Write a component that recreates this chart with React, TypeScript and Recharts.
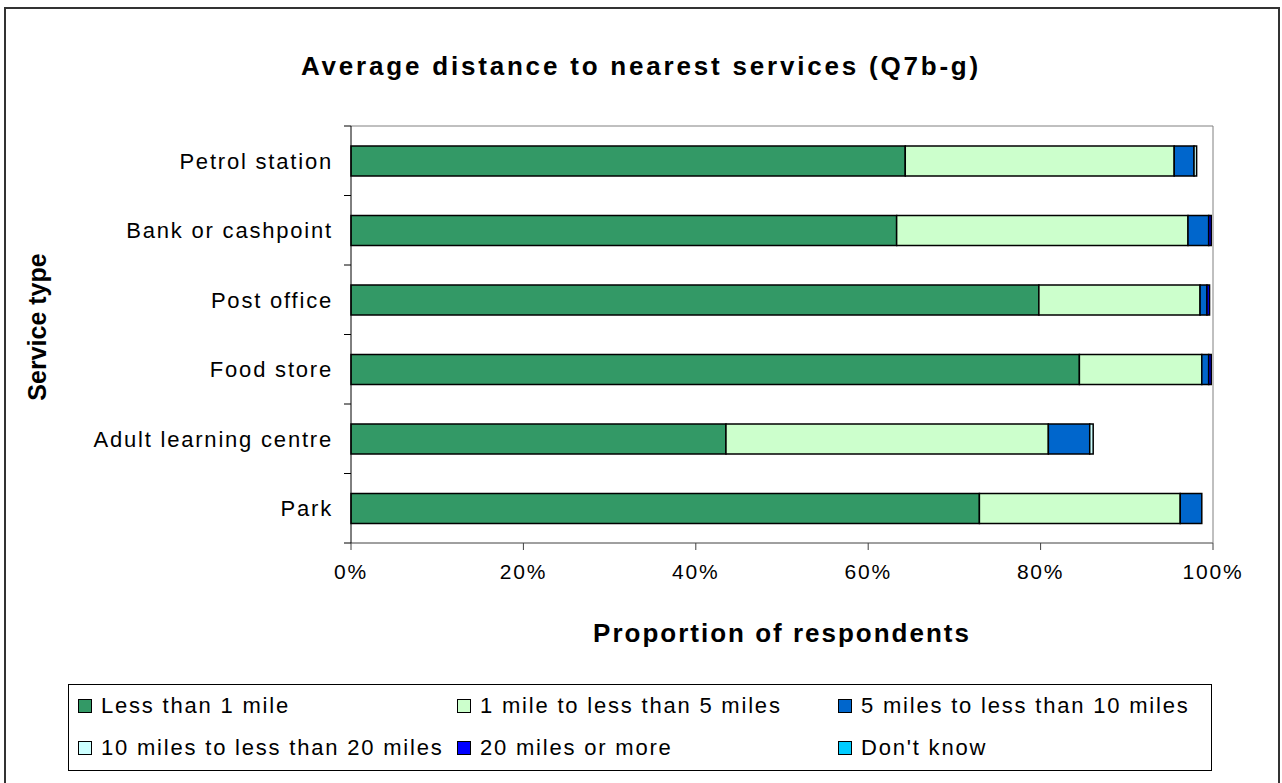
import { BarChart, Bar, XAxis, YAxis } from "recharts";

const services = [
  "Petrol station",
  "Bank or cashpoint",
  "Post office",
  "Food store",
  "Adult learning centre",
  "Park",
];

const lessThan1 = [64.3, 63.3, 79.8, 84.5, 43.5, 72.9];
const oneTo5 = [31.2, 33.8, 18.7, 14.2, 37.4, 23.3];
const fiveTo10 = [2.3, 2.4, 0.8, 0.8, 4.8, 2.5];
const tenTo20 = [0.3, 0, 0, 0, 0.4, 0];
const twentyPlus = [0, 0.3, 0.3, 0.3, 0, 0];
const dontKnow = [0, 0, 0, 0, 0, 0];

const percentTicks = [0, 20, 40, 60, 80, 100];

const seriesList = [
  { key: "lt1", name: "Less than 1 mile", color: "#339966", values: lessThan1 },
  { key: "b1to5", name: "1 mile to less than 5 miles", color: "#CCFFCC", values: oneTo5 },
  { key: "b5to10", name: "5 miles to less than 10 miles", color: "#0066CC", values: fiveTo10 },
  { key: "b10to20", name: "10 miles to less than 20 miles", color: "#CCFFFF", values: tenTo20 },
  { key: "gt20", name: "20 miles or more", color: "#0000FF", values: twentyPlus },
  { key: "dk", name: "Don't know", color: "#00CCFF", values: dontKnow },
];

const chartData = services.map((service, i) => {
  const row: Record<string, string | number> = { service };
  seriesList.forEach((s) => {
    row[s.key] = s.values[i];
  });
  return row;
});

const font = "'Liberation Sans', Arial, sans-serif";

const CHART_H = 783;
const MARGIN_TOP = 125;
const TOP_AXIS_H = 1;
const X_AXIS_H = 240;
const TICK_MARGIN = 18;
const bandSize = (CHART_H - MARGIN_TOP - TOP_AXIS_H - X_AXIS_H) / services.length;

// category label plus Excel-style tick marks on the band boundaries
function ServiceTick(props: any) {
  const { x, y, payload, index } = props;
  const axisX = x + TICK_MARGIN;
  return (
    <g>
      <line x1={axisX - 7} x2={axisX} y1={y - bandSize / 2} y2={y - bandSize / 2} stroke="#000" />
      {index === services.length - 1 && (
        <line x1={axisX - 7} x2={axisX} y1={y + bandSize / 2} y2={y + bandSize / 2} stroke="#000" />
      )}
      <text
        x={x}
        y={y}
        dy="0.355em"
        textAnchor="end"
        fill="#000"
        fontSize={22}
        fontFamily={font}
        letterSpacing={1.8}
      >
        {payload.value}
      </text>
    </g>
  );
}

export default function App() {
  return (
    <div
      style={{
        position: "absolute",
        left: 0,
        top: 0,
        width: 1282,
        height: 783,
        fontFamily: font,
        background: "#fff",
        overflow: "hidden",
      }}
    >
      <div
        style={{
          position: "absolute",
          left: 4,
          top: 7,
          width: 1272,
          height: 790,
          border: "2px solid #333",
        }}
      />
      <div
        style={{
          position: "absolute",
          left: 641,
          top: 66,
          transform: "translate(-50%, -50%)",
          fontSize: 26,
          fontWeight: "bold",
          letterSpacing: 2.8,
          whiteSpace: "nowrap",
        }}
      >
        Average distance to nearest services (Q7b-g)
      </div>
      <div
        style={{
          position: "absolute",
          left: 37,
          top: 327,
          transform: "translate(-50%, -50%) rotate(-90deg)",
          fontSize: 25,
          fontWeight: "bold",
          whiteSpace: "nowrap",
        }}
      >
        Service type
      </div>
      <div
        style={{
          position: "absolute",
          left: 782,
          top: 633,
          transform: "translate(-50%, -50%)",
          fontSize: 26,
          fontWeight: "bold",
          letterSpacing: 2,
          whiteSpace: "nowrap",
        }}
      >
        Proportion of respondents
      </div>

      <div style={{ position: "absolute", left: 0, top: 0 }}>
        <BarChart
          width={1282}
          height={CHART_H}
          data={chartData}
          layout="vertical"
          margin={{ top: MARGIN_TOP, right: 68, bottom: 0, left: 0 }}
        >
          <XAxis
            type="number"
            domain={[0, 100]}
            ticks={percentTicks}
            tickFormatter={(v: number) => `${v}%`}
            tick={{ fill: "#000", fontSize: 21, fontFamily: font, letterSpacing: 1.8 }}
            tickSize={7}
            tickMargin={14}
            stroke="#404040"
            height={X_AXIS_H}
            interval={0}
          />
          <XAxis
            xAxisId="top"
            orientation="top"
            type="number"
            domain={[0, 100]}
            allowDataOverflow
            ticks={[0, 100]}
            tickFormatter={() => ""}
            tickLine={false}
            stroke="#808080"
            height={TOP_AXIS_H}
          />
          <YAxis
            type="category"
            dataKey="service"
            tick={<ServiceTick />}
            tickLine={false}
            tickSize={0}
            tickMargin={TICK_MARGIN}
            stroke="#000"
            width={351}
            interval={0}
          />
          <YAxis
            yAxisId="right"
            orientation="right"
            type="number"
            domain={[0, 6]}
            ticks={[0, 6]}
            allowDataOverflow
            tickFormatter={() => ""}
            tickLine={false}
            stroke="#808080"
            width={1}
          />
          {seriesList.map((s) => (
            <Bar
              key={s.key}
              dataKey={s.key}
              name={s.name}
              stackId="a"
              fill={s.color}
              stroke="#000"
              strokeWidth={1.5}
              barSize={30}
              isAnimationActive={false}
            />
          ))}
        </BarChart>
      </div>

      <div
        style={{
          position: "absolute",
          left: 68,
          top: 684,
          width: 1144,
          height: 87,
          border: "1px solid #000",
          boxSizing: "border-box",
        }}
      >
        {seriesList.map((s, i) => (
          <div
            key={s.key}
            style={{
              position: "absolute",
              left: [9, 388, 769][i % 3],
              top: i < 3 ? 21 : 63,
              transform: "translateY(-50%)",
              display: "flex",
              alignItems: "center",
              fontSize: 22,
              letterSpacing: 1.8,
              whiteSpace: "nowrap",
            }}
          >
            <span
              style={{
                display: "inline-block",
                width: 12,
                height: 12,
                background: s.color,
                border: "1px solid #000",
                marginRight: 9,
              }}
            />
            {s.name}
          </div>
        ))}
      </div>
    </div>
  );
}
